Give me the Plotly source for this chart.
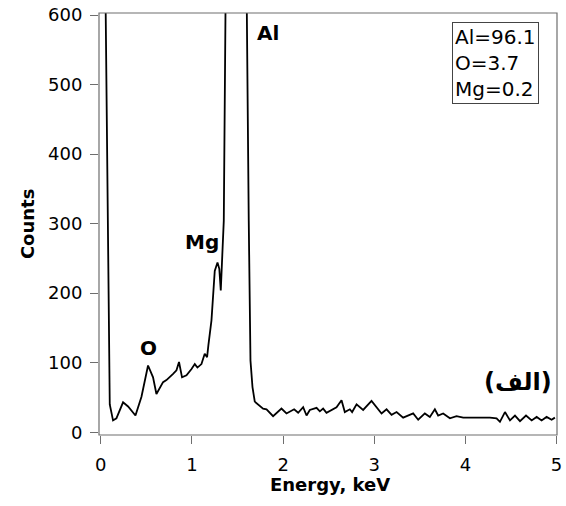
import plotly.graph_objects as go

energy_kev = [
    0.03, 0.05, 0.07, 0.085, 0.098, 0.134, 0.171, 0.244, 0.299, 0.380,
    0.446, 0.518, 0.573, 0.610, 0.647, 0.683, 0.720, 0.756, 0.793, 0.830,
    0.858, 0.891, 0.940, 0.995, 1.031, 1.060, 1.104, 1.140, 1.166, 1.180,
    1.214, 1.250, 1.280, 1.300, 1.316, 1.349, 1.379, 1.40, 1.44, 1.48,
    1.52, 1.56, 1.59, 1.598, 1.623, 1.642, 1.664, 1.689, 1.744, 1.780,
    1.818, 1.890, 1.982, 2.037, 2.121, 2.165, 2.220, 2.257, 2.293, 2.367,
    2.403, 2.439, 2.476, 2.549, 2.586, 2.641, 2.677, 2.732, 2.757, 2.806,
    2.878, 2.970, 3.025, 3.080, 3.135, 3.190, 3.245, 3.317, 3.427, 3.482,
    3.555, 3.610, 3.665, 3.701, 3.756, 3.830, 3.903, 3.976, 4.049, 4.123,
    4.195, 4.269, 4.342, 4.379, 4.434, 4.489, 4.544, 4.599, 4.665, 4.727,
    4.782, 4.836, 4.891, 4.946, 4.982,
]
counts = [
    900, 620, 330, 150, 40, 17, 20, 43, 37, 24,
    51, 96, 79, 55, 63, 72, 75, 79, 84, 89,
    101, 79, 82, 91, 98, 93, 98, 113, 108, 125,
    161, 232, 244, 235, 204, 304, 600, 900, 1800, 2400,
    2000, 1200, 750, 600, 304, 103, 65, 44, 38, 34,
    33, 23, 34, 27, 33, 28, 36, 24, 32, 35,
    30, 34, 28, 33, 36, 46, 29, 33, 29, 40,
    32, 45, 36, 27, 33, 25, 29, 21, 27, 18,
    27, 22, 33, 24, 27, 20, 23, 21, 21, 21,
    22, 21, 20, 15, 29, 17, 24, 16, 24, 17,
    22, 17, 22, 18, 21,
]

peak_labels = ["Al", "Mg", "O"]
peak_x = [1.83, 1.115, 0.518]
peak_y = [574, 273, 121]

composition_text = ["Al=96.1", "O=3.7", "Mg=0.2"]
panel_label = "(الف)"
x_title = "Energy, keV"
y_title = "Counts"

x_ticks = [0, 1, 2, 3, 4, 5]
y_ticks = [0, 100, 200, 300, 400, 500, 600]

FONT = "DejaVu Sans, Verdana, sans-serif"
FRAME = "#6e6e6e"

fig = go.Figure()
fig.add_trace(go.Scatter(
    x=energy_kev, y=counts, mode="lines",
    line=dict(color="black", width=1.8),
    showlegend=False, cliponaxis=True,
))

for lab, lx, ly in zip(peak_labels, peak_x, peak_y):
    fig.add_annotation(x=lx, y=ly, text="<b>%s</b>" % lab, showarrow=False,
                       font=dict(family=FONT, size=20, color="black"),
                       xanchor="center", yanchor="middle")

fig.add_annotation(x=4.58, y=72, text="<b>%s</b>" % panel_label, showarrow=False,
                   font=dict(family=FONT, size=24, color="black"),
                   xanchor="center", yanchor="middle")

fig.add_annotation(x=4.81, y=590, text="<br>".join(composition_text),
                   showarrow=False, align="left",
                   font=dict(family=FONT, size=20, color="black"),
                   xanchor="right", yanchor="top",
                   bordercolor="#444444", borderwidth=1, borderpad=2,
                   bgcolor="white")

# axis titles as paper-anchored text
fig.add_annotation(xref="paper", yref="paper", x=0.505, y=-0.117,
                   text="<b>%s</b>" % x_title, showarrow=False,
                   font=dict(family=FONT, size=18, color="black"),
                   xanchor="center", yanchor="middle")
fig.add_annotation(xref="paper", yref="paper", x=-0.157, y=0.5,
                   text="<b>%s</b>" % y_title, showarrow=False, textangle=-90,
                   font=dict(family=FONT, size=18, color="black"),
                   xanchor="center", yanchor="middle")

# plot frame
fig.add_shape(type="rect", xref="paper", yref="paper", x0=0, y0=0, x1=1, y1=1,
              line=dict(color=FRAME, width=1.2), layer="above")

axis_common = dict(
    showline=False, mirror=False,
    ticks="outside", ticklen=8, tickcolor=FRAME, tickwidth=1,
    showgrid=False, zeroline=False, automargin=False,
    ticklabeloverflow="allow",
    tickfont=dict(family=FONT, size=18, color="black"),
)

fig.update_xaxes(range=[-0.02, 5.005], tickvals=x_ticks, ticklabelstandoff=5,
                 **axis_common)
fig.update_yaxes(range=[-4, 603], tickvals=y_ticks, ticklabelstandoff=4,
                 **axis_common)

fig.update_layout(
    width=566, height=506,
    margin=dict(l=99, r=9, t=13, b=71),
    paper_bgcolor="white", plot_bgcolor="white",
)

fig.write_html("out.html", config={"displayModeBar": False},
               post_script="document.body.style.margin='0';")
